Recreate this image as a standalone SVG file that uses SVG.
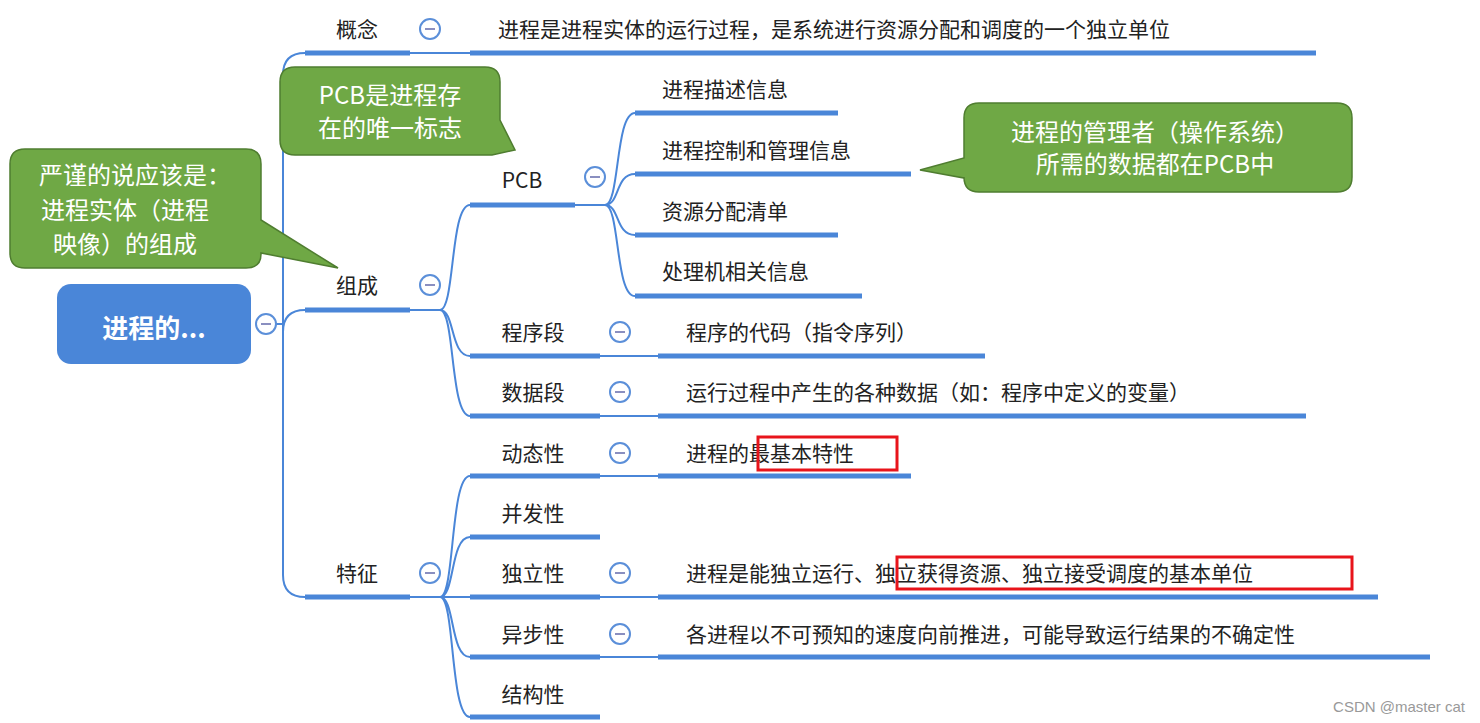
<svg xmlns="http://www.w3.org/2000/svg" width="1480" height="723" viewBox="0 0 1480 723">
<style>
.t{font-family:"Noto Sans CJK SC","Noto Sans",sans-serif;font-size:21px;fill:#222}
.u{stroke:#4a86d8;stroke-width:5;fill:none}
.c{stroke:#4a86d8;stroke-width:2;fill:none}
.o{fill:#fff;stroke:#5b8fd9;stroke-width:2}
.m{stroke:#8a8fc0;stroke-width:2}
.g{fill:#6fa845;stroke:#4f7d30;stroke-width:1.5}
.gt{font-family:"Noto Sans CJK SC","Noto Sans",sans-serif;font-size:24px;fill:#fff;text-anchor:middle}
.r{fill:none;stroke:#e8141b;stroke-width:3}
</style>
<defs>
<g id="col"><circle r="10" class="o"/><line x1="-5" y1="0" x2="5" y2="0" class="m"/></g>
</defs>
<rect width="1480" height="723" fill="#fff"/>
<g id="connectors">
<path class="c" d="M276,324 H283 M305,53 Q283,53 283,75 V575 Q283,597 305,597 M283,332 Q283,310 305,310"/>
<path class="c" d="M410,53 H470 M410,310 H440 M440,310 C455,310 450,205 470,205 M440,310 C455,310 450,356 470,356 M440,310 C455,310 450,416 470,416"/>
<path class="c" d="M575,205 H605 M605,205 C620,205 615,113 635,113 M605,205 C620,205 615,174 635,174 M605,205 C620,205 615,235 635,235 M605,205 C620,205 615,296 635,296"/>
<path class="c" d="M600,356 H658 M600,416 H658 M410,597 H440 M440,597 C455,597 450,476 470,476 M440,597 C455,597 450,537 470,537 M440,597 H470 M440,597 C455,597 450,657 470,657 M440,597 C455,597 450,717 470,717 M600,476 H658 M600,597 H658 M600,657 H658"/>
</g>
<g id="root"><rect x="57" y="284" width="194" height="80" rx="14" fill="#4a86d8"/><text x="154" y="338" text-anchor="middle" font-family="Noto Sans CJK SC,sans-serif" font-size="26" font-weight="bold" fill="#fff">进程的...</text><use href="#col" x="266" y="324"/></g>
<g id="gainian"><line class="u" x1="305" y1="53" x2="410" y2="53"/><text class="t" x="357" y="37" text-anchor="middle">概念</text><use href="#col" x="430" y="29"/></g>
<g id="gainian-d"><line class="u" x1="470" y1="53" x2="1316" y2="53"/><text class="t" x="498" y="37">进程是进程实体的运行过程，是系统进行资源分配和调度的一个独立单位</text></g>
<g id="zucheng"><line class="u" x1="305" y1="310" x2="410" y2="310"/><text class="t" x="357" y="293" text-anchor="middle">组成</text><use href="#col" x="430" y="285"/></g>
<g id="pcb"><line class="u" x1="470" y1="205" x2="575" y2="205"/><text class="t" x="522" y="188" text-anchor="middle">PCB</text><use href="#col" x="595" y="177"/></g>
<g id="pcb1"><line class="u" x1="635" y1="113" x2="838" y2="113"/><text class="t" x="662" y="97">进程描述信息</text></g>
<g id="pcb2"><line class="u" x1="635" y1="174" x2="911" y2="174"/><text class="t" x="662" y="158">进程控制和管理信息</text></g>
<g id="pcb3"><line class="u" x1="635" y1="235" x2="838" y2="235"/><text class="t" x="662" y="219">资源分配清单</text></g>
<g id="pcb4"><line class="u" x1="635" y1="296" x2="862" y2="296"/><text class="t" x="662" y="279">处理机相关信息</text></g>
<g id="chengxu"><line class="u" x1="470" y1="356" x2="600" y2="356"/><text class="t" x="533" y="340" text-anchor="middle">程序段</text><use href="#col" x="620" y="332"/></g>
<g id="chengxu-d"><line class="u" x1="658" y1="356" x2="985" y2="356"/><text class="t" x="686" y="340">程序的代码（指令序列）</text></g>
<g id="shuju"><line class="u" x1="470" y1="416" x2="600" y2="416"/><text class="t" x="533" y="400" text-anchor="middle">数据段</text><use href="#col" x="620" y="392"/></g>
<g id="shuju-d"><line class="u" x1="658" y1="416" x2="1306" y2="416"/><text class="t" x="686" y="400">运行过程中产生的各种数据（如：程序中定义的变量）</text></g>
<g id="tezheng"><line class="u" x1="305" y1="597" x2="410" y2="597"/><text class="t" x="357" y="581" text-anchor="middle">特征</text><use href="#col" x="430" y="573"/></g>
<g id="dongtai"><line class="u" x1="470" y1="476" x2="600" y2="476"/><text class="t" x="533" y="461" text-anchor="middle">动态性</text><use href="#col" x="620" y="453"/></g>
<g id="dongtai-d"><line class="u" x1="658" y1="476" x2="911" y2="476"/><text class="t" x="686" y="461">进程的最基本特性</text><rect class="r" x="758" y="437" width="139" height="33"/></g>
<g id="bingfa"><line class="u" x1="470" y1="537" x2="600" y2="537"/><text class="t" x="533" y="521" text-anchor="middle">并发性</text></g>
<g id="duli"><line class="u" x1="470" y1="597" x2="600" y2="597"/><text class="t" x="533" y="581" text-anchor="middle">独立性</text><use href="#col" x="620" y="573"/></g>
<g id="duli-d"><line class="u" x1="658" y1="597" x2="1378" y2="597"/><text class="t" x="686" y="581">进程是能独立运行、独立获得资源、独立接受调度的基本单位</text><rect class="r" x="897" y="557" width="455" height="32"/></g>
<g id="yibu"><line class="u" x1="470" y1="657" x2="600" y2="657"/><text class="t" x="533" y="642" text-anchor="middle">异步性</text><use href="#col" x="620" y="634"/></g>
<g id="yibu-d"><line class="u" x1="658" y1="657" x2="1430" y2="657"/><text class="t" x="686" y="642">各进程以不可预知的速度向前推进，可能导致运行结果的不确定性</text></g>
<g id="jiegou"><line class="u" x1="470" y1="717" x2="600" y2="717"/><text class="t" x="533" y="702" text-anchor="middle">结构性</text></g>
<g id="note1"><path class="g" d="M295,67 H485 Q500,67 500,82 V120 L515,150 L492,155 H295 Q280,155 280,140 V82 Q280,67 295,67 Z"/><text class="gt" x="390" y="104">PCB是进程存</text><text class="gt" x="390" y="137">在的唯一标志</text></g>
<g id="note2"><path class="g" d="M25,149 H246 Q261,149 261,164 V220 L338,268 L261,253 V254 Q261,268 246,268 H25 Q10,268 10,253 V164 Q10,149 25,149 Z"/><text class="gt" x="135" y="184">严谨的说应该是：</text><text class="gt" x="125" y="219">进程实体（进程</text><text class="gt" x="125" y="253">映像）的组成</text></g>
<g id="note3"><path class="g" d="M979,103 H1337 Q1352,103 1352,118 V177 Q1352,192 1337,192 H979 Q964,192 964,177 V178 L920,170 L964,158 V118 Q964,103 979,103 Z"/><text class="gt" x="1155" y="141">进程的管理者（操作系统）</text><text class="gt" x="1155" y="173">所需的数据都在PCB中</text></g>
<text x="1465" y="712" text-anchor="end" font-family="Liberation Sans,sans-serif" font-size="15" fill="#999">CSDN @master cat</text>
</svg>
